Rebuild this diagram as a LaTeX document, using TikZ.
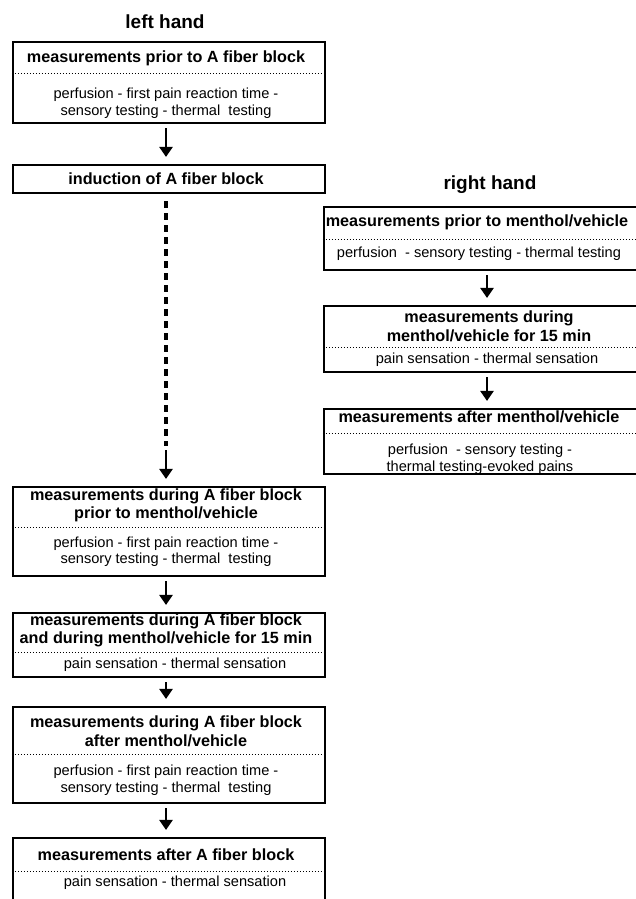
\documentclass[tikz,border=0pt]{standalone}
\usepackage{fontspec}
\setmainfont{Liberation Sans}
\usetikzlibrary{arrows.meta}

\tikzset{
	box/.style={draw, line width=2.1pt, inner sep=0pt},
	lbox/.style={box, minimum width=312pt},
	rbox/.style={box, minimum width=328pt},
	ttl/.style={inner sep=0pt, align=center, font=\fontsize{16.2}{18.5}\selectfont\bfseries},
	txt/.style={inner sep=0pt, align=center, font=\fontsize{14.6}{16.5}\selectfont},
	hand/.style={inner sep=0pt, font=\fontsize{19}{22}\selectfont\bfseries},
	sep/.style={line width=0.7pt, dash pattern=on 0.8pt off 2.2pt},
	arr/.style={line width=2.6pt, -{Triangle[width=13pt,length=10pt]}, shorten <=4pt, shorten >=7pt},
	dashline/.style={line width=3.6pt, dash pattern=on 7pt off 5pt, shorten <=7pt}
}

\begin{document}
\begin{tikzpicture}[x=1pt,y=-1pt]
	\useasboundingbox (0,0) rectangle (636,899);
	\clip (0,0) rectangle (636,899);
	\node[hand] (lefthand) at (165,22) {left hand};
	\node[hand] (righthand) at (490,185) {right hand};
	% left hand
	\node[lbox, minimum height=81pt] (pre) at (169,82.5) {};
	\node[ttl] (pretitle) at (166,58) {measurements prior to A fiber block};
	\draw[sep] (pre.west |- 0,73) -- (pre.east |- 0,73);
	\node[txt] (pretext) at (166,103) {perfusion - first pain reaction time -\\sensory testing - thermal\ \ testing};
	\node[lbox, minimum height=28pt] (induct) at (169,179) {};
	\node[ttl] (inducttitle) at (166,179) {induction of A fiber block};
	\node[lbox, minimum height=89pt] (blockpre) at (169,531.5) {};
	\node[ttl] (blockpretitle) at (166,505.5) {measurements during A fiber block\\prior to menthol/vehicle};
	\draw[sep] (blockpre.west |- 0,527) -- (blockpre.east |- 0,527);
	\node[txt] (blockpretext) at (166,551.5) {perfusion - first pain reaction time -\\sensory testing - thermal\ \ testing};
	\node[lbox, minimum height=64pt] (blockdur) at (169,645) {};
	\node[ttl] (blockdurtitle) at (166,630.5) {measurements during A fiber block\\and during menthol/vehicle for 15 min};
	\draw[sep] (blockdur.west |- 0,652) -- (blockdur.east |- 0,652);
	\node[txt] (blockdurtext) at (175,665) {pain sensation - thermal sensation};
	\node[lbox, minimum height=96pt] (blockpost) at (169,755) {};
	\node[ttl] (blockposttitle) at (166,731.5) {measurements during A fiber block\\after menthol/vehicle};
	\draw[sep] (blockpost.west |- 0,754) -- (blockpost.east |- 0,754);
	\node[txt] (blockposttext) at (166,780) {perfusion - first pain reaction time -\\sensory testing - thermal\ \ testing};
	\node[lbox, minimum height=74pt] (post) at (169,875) {};
	\node[ttl] (posttitle) at (166,855) {measurements after A fiber block};
	\draw[sep] (post.west |- 0,871) -- (post.east |- 0,871);
	\node[txt] (posttext) at (175,883) {pain sensation - thermal sensation};
	\coordinate (gap) at (166,446);
	\draw[arr] ([xshift=-3pt]pre.south) -- ([xshift=-3pt]induct.north);
	\draw[dashline] ([xshift=-3pt]induct.south) -- (gap);
	\draw[arr] (gap) -- ([xshift=-3pt]blockpre.north);
	\draw[arr] ([xshift=-3pt]blockpre.south) -- ([xshift=-3pt]blockdur.north);
	\draw[arr] ([xshift=-3pt]blockdur.south) -- ([xshift=-3pt]blockpost.north);
	\draw[arr] ([xshift=-3pt]blockpost.south) -- ([xshift=-3pt]post.north);
	% right hand
	\node[rbox, minimum height=63pt] (mpre) at (488,238.5) {};
	\node[ttl] (mpretitle) at (477,222) {measurements prior to menthol/vehicle};
	\draw[sep] (mpre.west |- 0,239) -- (mpre.east |- 0,239);
	\node[txt] (mpretext) at (479,254) {perfusion\ \ - sensory testing - thermal testing};
	\node[rbox, minimum height=66pt] (mdur) at (488,339) {};
	\node[ttl] (mdurtitle) at (489,326.5) {measurements during\\menthol/vehicle for 15 min};
	\draw[sep] (mdur.west |- 0,347) -- (mdur.east |- 0,347);
	\node[txt] (mdurtext) at (487,360) {pain sensation - thermal sensation};
	\node[rbox, minimum height=65pt] (mpost) at (488,441.5) {};
	\node[ttl] (mposttitle) at (479,417) {measurements after menthol/vehicle};
	\draw[sep] (mpost.west |- 0,433) -- (mpost.east |- 0,433);
	\node[txt] (mposttext) at (480,459) {perfusion\ \ - sensory testing -\\thermal testing-evoked pains};
	\draw[arr] ([xshift=-1pt]mpre.south) -- ([xshift=-1pt]mdur.north);
	\draw[arr] ([xshift=-1pt]mdur.south) -- ([xshift=-1pt]mpost.north);
\end{tikzpicture}
\end{document}
